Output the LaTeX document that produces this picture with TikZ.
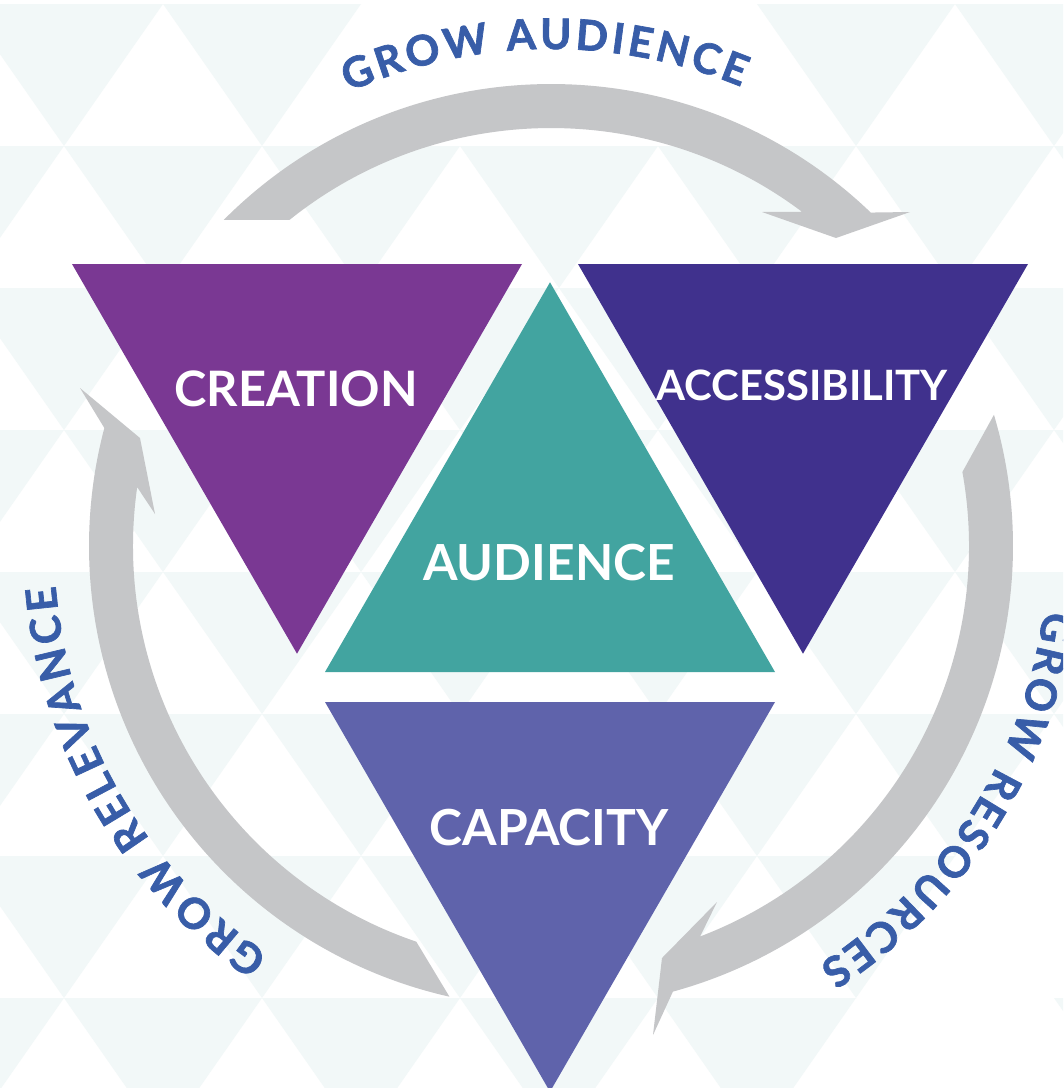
\documentclass[tikz,border=0pt]{standalone}
\usepackage{fontspec}
\setmainfont{Lato}
\newfontfamily\growface{Lato}[BoldFeatures={FakeBold=1.6}]
\usetikzlibrary{calc}
\usetikzlibrary{decorations.text}
\definecolor{creationpurple}{HTML}{7A3893}
\definecolor{accessindigo}{HTML}{40318D}
\definecolor{audienceteal}{HTML}{42A4A0}
\definecolor{capacityblue}{HTML}{5F63AB}
\definecolor{bandgrey}{HTML}{C5C6C8}
\definecolor{growblue}{HTML}{385DA8}
\definecolor{tilegrey}{HTML}{F2F8F8}
\tikzstyle{tile}=[fill=tilegrey]
\tikzstyle{band}=[fill=bandgrey]
\tikzstyle{word}=[text=white,inner sep=0pt,anchor=base]
\tikzstyle{growlabel}=[decorate,decoration={text along path,text align=fit to path,text color=growblue}]
\newcommand{\wordfont}[1]{\bfseries\fontsize{#1}{#1}\selectfont}
\newcommand{\growfont}{\growface\bfseries\fontsize{24}{26}\selectfont}

\begin{document}
\begin{tikzpicture}[x=0.2mm,y=-0.2mm]
	\useasboundingbox (0,0) rectangle (1063,1088);
	\clip (0,0) rectangle (1063,1088);
	\fill[white] (0,0) rectangle (1063,1088);
	% triangle grid behind everything
	\foreach \k in {0,...,7}
		\foreach \j in {-1,...,5}{
			\pgfmathtruncatemacro{\blank}{(\k==0&&(\j==2||\j==3))||(\k==6&&\j==5)||(\k==7&&\j==4)}
			\ifnum\blank=0
				\fill[tile] ({99*mod(\k,2)+198*\j-35},{4+142*\k}) -- ++(198,0) -- ++(-99,142) -- cycle;
			\fi
		}
	\coordinate (hub) at (551,546);
	% the four triangles
	\fill[creationpurple] (72,264) -- (522,264) -- (297,653.7) -- cycle;
	\fill[accessindigo] (578,264) -- (1028,264) -- (803,653.7) -- cycle;
	\fill[audienceteal] (550,282.3) -- (775,672) -- (325,672) -- cycle;
	\fill[capacityblue] (325,702) -- (775,702) -- (550,1091.7) -- cycle;
	\node[word,font=\wordfont{27.8}] (creation) at (296,406) {CREATION};
	\node[word,font=\wordfont{23.8}] (access) at (802,400) {ACCESSIBILITY};
	\node[word,font=\wordfont{28.3}] (audience) at (549,580.7) {AUDIENCE};
	\node[word,font=\wordfont{28.3}] (capacity) at (549,845) {CAPACITY};
	% grey arrows round the hub
	\fill[band] ($(hub)+(-135.1:462)$) arc[start angle=-135.1,end angle=-46.2,radius=462]
		-- (910,212) -- (836,238) -- (762,212)
		-- ($(hub)+(-53.1:418)$) arc[start angle=-53.1,end angle=-128.7,radius=418] -- cycle;
	\fill[band] ($(hub)+(-16.5:462)$) arc[start angle=-16.5,end angle=74.7,radius=462]
		-- (653,1035) -- (662,958) -- (717,902)
		-- ($(hub)+(69.1:418)$) arc[start angle=69.1,end angle=-10.2,radius=418] -- cycle;
	\fill[band] ($(hub)+(102.7:462)$) arc[start angle=102.7,end angle=194.8,radius=462]
		-- (80,388) -- (140,438) -- (155,514)
		-- ($(hub)+(188.1:418)$) arc[start angle=188.1,end angle=108.8,radius=418] -- cycle;
	% labels along the arrows
	\path[growlabel,decoration={text={|\growfont|GROW AUDIENCE}}]
		($(hub)+(-114:497)$) arc[start angle=-114,end angle=-67.5,radius=497];
	\path[growlabel,decoration={text={|\growfont|GROW RESOURCES}}]
		($(hub)+(7.5:497)$) arc[start angle=7.5,end angle=57.4,radius=497];
	\path[growlabel,decoration={text={|\growfont|GROW RELEVANCE}}]
		($(hub)+(124.6:497)$) arc[start angle=124.6,end angle=175.4,radius=497];
\end{tikzpicture}
\end{document}
